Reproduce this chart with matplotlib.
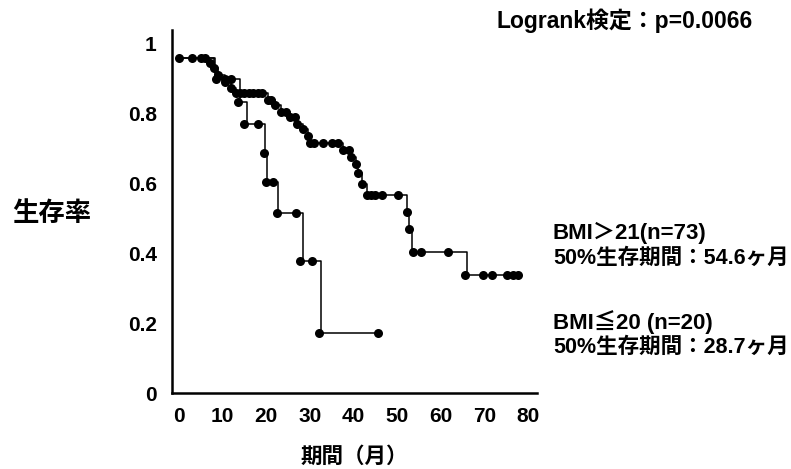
import matplotlib.pyplot as plt

plt.rcParams['font.family'] = ['Liberation Sans', 'Noto Sans CJK JP']
plt.rcParams['font.weight'] = 'bold'

# BMI>21 group: step curve (time of drop, survival after drop)
hi_t = [0, 8, 9, 10.5, 12, 13, 20.5, 22, 23.5, 25.5, 27, 28.5, 29.5, 30,
        37.5, 39.5, 40.5, 41, 42, 43, 52.3, 52.8, 53.5, 66, 78]
hi_s = [0.96, 0.93, 0.91, 0.89, 0.875, 0.86, 0.84, 0.825, 0.805, 0.79, 0.77,
        0.755, 0.735, 0.717, 0.697, 0.675, 0.655, 0.63, 0.60, 0.567, 0.52,
        0.47, 0.405, 0.338, 0.338]
hi_mx = [0, 3, 5, 6, 7, 8, 9, 8.5, 10.5, 12, 13, 14, 15, 16, 17, 18, 19,
         20.5, 21, 22, 23.5, 24.5, 25.5, 26.5, 27, 28.5, 29.5, 30, 31, 33,
         35, 36.5, 37.5, 39, 39.5, 40.5, 41, 42, 43, 44, 45, 46.5, 50.3,
         52.3, 52.8, 53.7, 55.5, 61.7, 65.6, 69.7, 71.8, 75.2, 76.6, 77.7]
hi_my = [0.96, 0.96, 0.96, 0.96, 0.945, 0.93, 0.91, 0.90, 0.89, 0.875,
         0.86, 0.86, 0.86, 0.86, 0.86, 0.86, 0.86, 0.84, 0.84, 0.825, 0.805,
         0.805, 0.79, 0.79, 0.77, 0.755, 0.735, 0.717, 0.717, 0.717, 0.717,
         0.717, 0.697, 0.697, 0.675, 0.655, 0.63, 0.60, 0.567, 0.567, 0.567,
         0.567, 0.567, 0.52, 0.47, 0.405, 0.405, 0.405, 0.338, 0.338, 0.338,
         0.338, 0.338, 0.338]

# BMI<=20 group
lo_t = [0, 8.3, 14, 15.6, 19.7, 20.2, 22.8, 28.4, 32.6, 45.6]
lo_s = [0.96, 0.90, 0.834, 0.77, 0.687, 0.605, 0.516, 0.378, 0.172, 0.172]
lo_mx = [10.5, 12, 13.5, 15, 18, 19.5, 19.9, 21.6, 22.4, 26.8, 27.8, 30.5,
         32, 45.6]
lo_my = [0.90, 0.90, 0.834, 0.77, 0.77, 0.687, 0.605, 0.605, 0.516, 0.516,
         0.378, 0.378, 0.172, 0.172]

xticks = [0, 10, 20, 30, 40, 50, 60, 70, 80]
yticks = [0, 0.2, 0.4, 0.6, 0.8, 1]
yticklabels = ['0', '0.2', '0.4', '0.6', '0.8', '1']

fig = plt.figure(figsize=(7.91, 4.69), dpi=100)
ax = fig.add_axes([0.2175, 0.162, 0.4614, 0.774])

ax.step(hi_t, hi_s, where='post', color='k', lw=1.1)
ax.step(lo_t, lo_s, where='post', color='k', lw=1.1)
ax.plot(hi_mx, hi_my, 'o', color='k', ms=6.5, mew=0)
ax.plot(lo_mx, lo_my, 'o', color='k', ms=6.5, mew=0)

ax.set_xlim(-1.6, 82.1)
ax.set_ylim(0, 1.04)
ax.set_xticks(xticks)
ax.set_yticks(yticks)
ax.set_yticklabels(yticklabels)
ax.tick_params(axis='x', length=0, labelsize=15, pad=10)
ax.tick_params(axis='y', length=0, labelsize=15, pad=11)
for lab in ax.get_xticklabels() + ax.get_yticklabels():
    lab.set_fontweight('bold')
ax.spines['top'].set_visible(False)
ax.spines['right'].set_visible(False)
ax.spines['left'].set_linewidth(1.8)
ax.spines['bottom'].set_linewidth(1.8)

ax.set_xlabel('期間（月）', fontsize=15.5, fontweight='bold', labelpad=15)
fig.text(0.015, 0.545, '生存率', fontsize=19, fontweight='bold', va='center')

fig.text(0.628, 0.955, 'Logrank検定：p=0.0066', fontsize=16.5,
         fontweight='bold', va='center')
fig.text(0.699, 0.503, 'BMI＞21(n=73)', fontsize=16, fontweight='bold',
         va='center')
fig.text(0.699, 0.449, '50%生存期間：54.6ヶ月', fontsize=15.5,
         fontweight='bold', va='center')
fig.text(0.699, 0.313, 'BMI≦20 (n=20)', fontsize=16, fontweight='bold',
         va='center')
fig.text(0.699, 0.260, '50%生存期間：28.7ヶ月', fontsize=15.5,
         fontweight='bold', va='center')

fig.savefig('out.png', dpi=100)
